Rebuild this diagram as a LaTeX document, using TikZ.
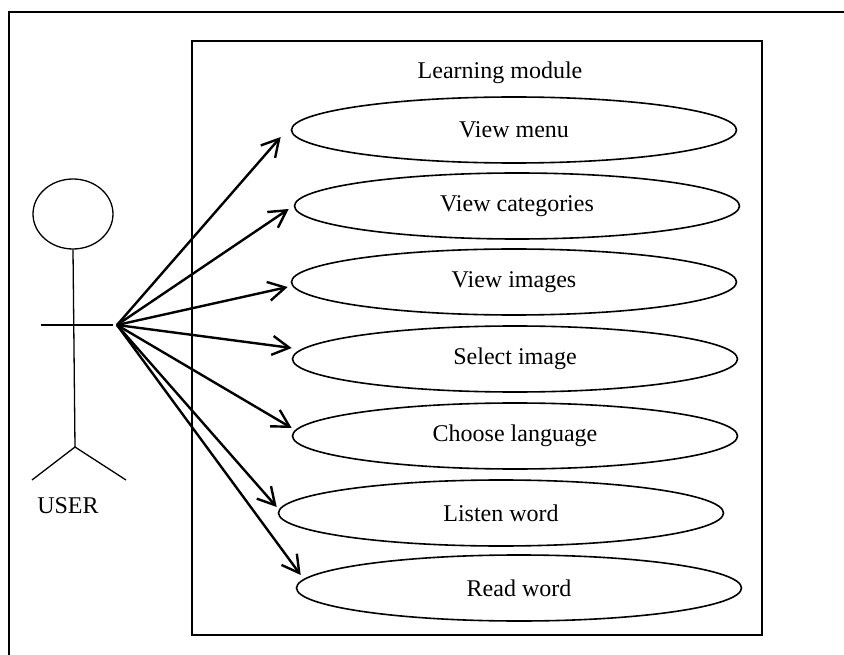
\documentclass[tikz,border=0pt]{standalone}
\usepackage{fontspec}
\setmainfont{Liberation Serif}
\usetikzlibrary{shapes.geometric,arrows.meta,positioning,calc}

\begin{document}
\begin{tikzpicture}[x=1pt, y=-1pt,
  usecase/.style={ellipse, draw, line width=1.6pt, inner sep=0pt,
    minimum width=445pt, minimum height=66pt, font=\fontsize{24}{28}\selectfont},
  assoc/.style={line width=2.4pt, -{Straight Barb[length=17pt,width=19pt]}},
  stick/.style={line width=1.3pt},
  frame/.style={line width=2pt}]
  \useasboundingbox (0,0) rectangle (844,655);
  % outer table cell (open at right and bottom)
  \draw[frame] (9,655) -- (9,12) -- (844,12);
  % system boundary
  \draw[frame] (192,41) rectangle (762,635);
  \node[font=\fontsize{24}{28}\selectfont] (title) at (500,73) {Learning module};

  % actor
  \node[ellipse, draw, stick, minimum width=80pt, minimum height=70pt, inner sep=0pt] (head) at (73,214) {};
  \coordinate (hip) at (75,447);
  \draw[stick] (head.south) -- (hip);
  \draw[stick] (41,325) -- (113,325);
  \draw[stick] (32,480) -- (hip) -- (126,480);
  \coordinate (hand) at (117,325);
  \node[font=\fontsize{24}{28}\selectfont] (user) at (68,506) {USER};

  % use cases
  \node[usecase] (menu) at (514,130) {View menu};
  \node[usecase] (cats) at (517,206) {View categories};
  \node[usecase] (imgs) at (514,282) {View images};
  \node[usecase] (sel)  at (515,359) {Select image};
  \node[usecase] (lang) at (515,436) {Choose language};
  \node[usecase] (lis)  at (501,513) {Listen word};
  \node[usecase] (read) at (519,588) {Read word};

  % associations
  \draw[assoc] (hand) -- ($(menu.west)+(-10,7)$);
  \draw[assoc] (hand) -- ($(cats.west)+(-5,3)$);
  \draw[assoc] (hand) -- ($(imgs.west)+(-3,5)$);
  \draw[assoc] (hand) -- ($(sel.west)+(0,-11)$);
  \draw[assoc] (hand) -- ($(lang.west)+(0,-8)$);
  \draw[assoc] (hand) -- ($(lis.west)+(-1,-6)$);
  \draw[assoc] (hand) -- ($(read.west)+(5,-13)$);
\end{tikzpicture}
\end{document}
